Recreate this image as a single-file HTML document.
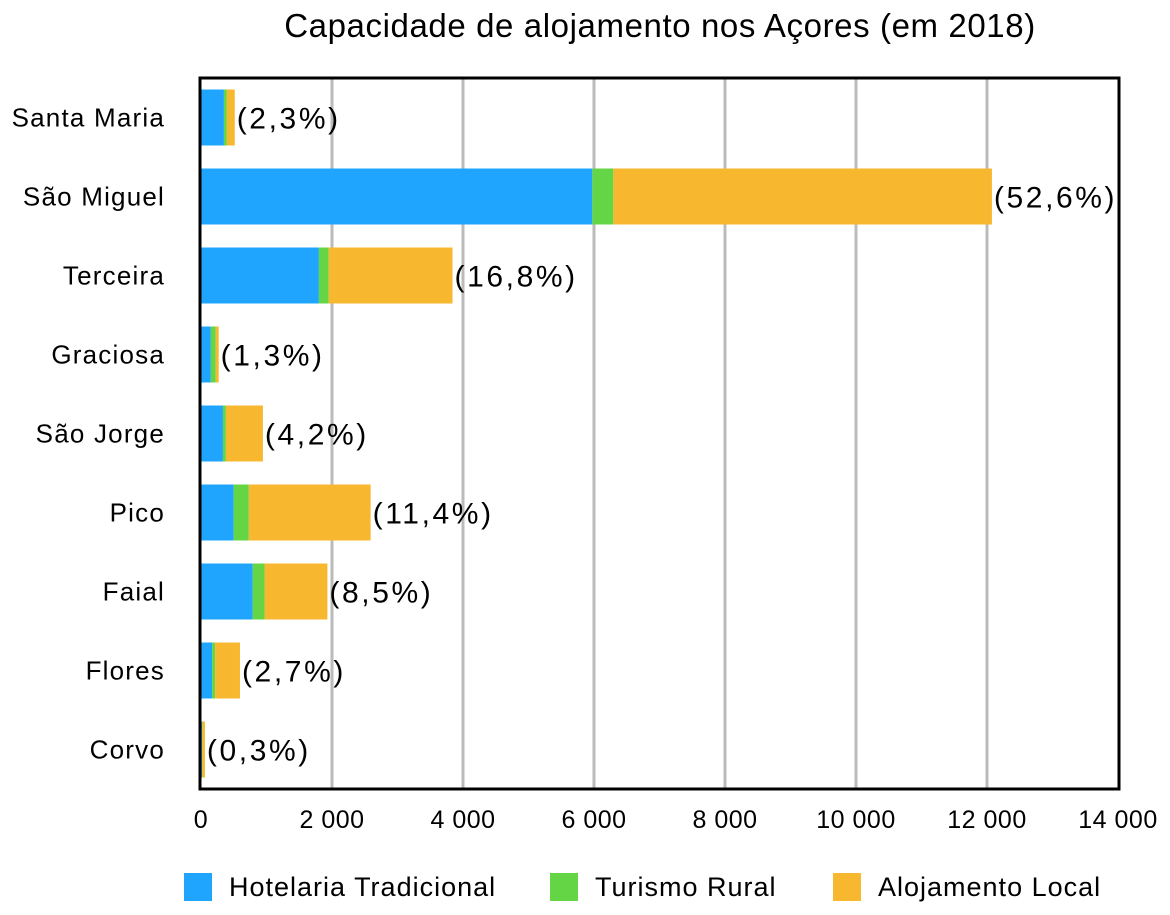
<!DOCTYPE html>
<html><head><meta charset="utf-8"><style>
body{margin:0;background:#fff;}
svg text{font-family:"Liberation Sans",sans-serif;fill:#000;}
</style></head><body>
<svg id="c" width="1170" height="910" xmlns="http://www.w3.org/2000/svg">
<text x="660" y="37" font-size="33" letter-spacing="0.6" text-anchor="middle">Capacidade de alojamento nos Açores (em 2018)</text>
<g id="grid"></g><g id="bars"></g><g id="labels"></g>
<rect x="200" y="78" width="919" height="711" fill="none" stroke="#000" stroke-width="3"/>
<g id="legend"></g>
</svg>
<script>
const categories=["Santa Maria","São Miguel","Terceira","Graciosa","São Jorge","Pico","Faial","Flores","Corvo"];
const hotelaria=[350,5975,1800,150,335,500,790,170,15];
const rural=[45,320,150,75,45,230,180,45,5];
const local=[120,5780,1890,45,565,1860,960,380,40];
const pctLabels=["(2,3%)","(52,6%)","(16,8%)","(1,3%)","(4,2%)","(11,4%)","(8,5%)","(2,7%)","(0,3%)"];
const ticks=[0,2000,4000,6000,8000,10000,12000,14000];
const tickLabels=["0","2 000","4 000","6 000","8 000","10 000","12 000","14 000"];
const seriesNames=["Hotelaria Tradicional","Turismo Rural","Alojamento Local"];
const colors=["#1fa5fd","#64d645","#f7b72e"];
const NS="http://www.w3.org/2000/svg";
const x0=201,xs=(1118-201)/14000,top0=78,rowH=79,barH=56;
const X=v=>x0+v*xs, Y=i=>top0+rowH*(i+0.5);
function mk(t,a,p,txt){const e=document.createElementNS(NS,t);for(const k in a)e.setAttribute(k,a[k]);if(txt!==undefined)e.textContent=txt;p.appendChild(e);return e;}
const g=document.getElementById('grid'),b=document.getElementById('bars'),l=document.getElementById('labels'),lg=document.getElementById('legend');
ticks.forEach((t,i)=>{
 if(i>0&&i<ticks.length-1){const ln=mk('line',{x1:X(t),x2:X(t),y1:78,y2:789,stroke:'#bbb','stroke-width':3},g);
 
 }
 const tx=mk('text',{x:X(t),y:828,'font-size':25,'letter-spacing':0.5,'text-anchor':'middle'},g,tickLabels[i]);
 
 
});
const series=[hotelaria,rural,local];
categories.forEach((c,i)=>{
 let acc=0;
 series.forEach((s,k)=>{
  const r=mk('rect',{x:X(acc),y:Y(i)-barH/2,width:s[i]*xs,height:barH,fill:colors[k]},b);
  
  
  acc+=s[i];
 });
 const cl=mk('text',{x:165,y:Y(i)+9,'font-size':26,'letter-spacing':1.2,'text-anchor':'end'},l,c);
 
 
 const pl=mk('text',{x:X(acc)+2,y:Y(i)+11,'font-size':30,'letter-spacing':2.6},l,pctLabels[i]);
 
 
});
const lx=[184,550,833];
seriesNames.forEach((n,k)=>{
 const sw=mk('rect',{x:lx[k],y:873,width:28,height:28,fill:colors[k]},lg);
 
 
 const t=mk('text',{x:lx[k]+45,y:896,'font-size':27,'letter-spacing':1},lg,n);
 
 
});
</script>
</body></html>
